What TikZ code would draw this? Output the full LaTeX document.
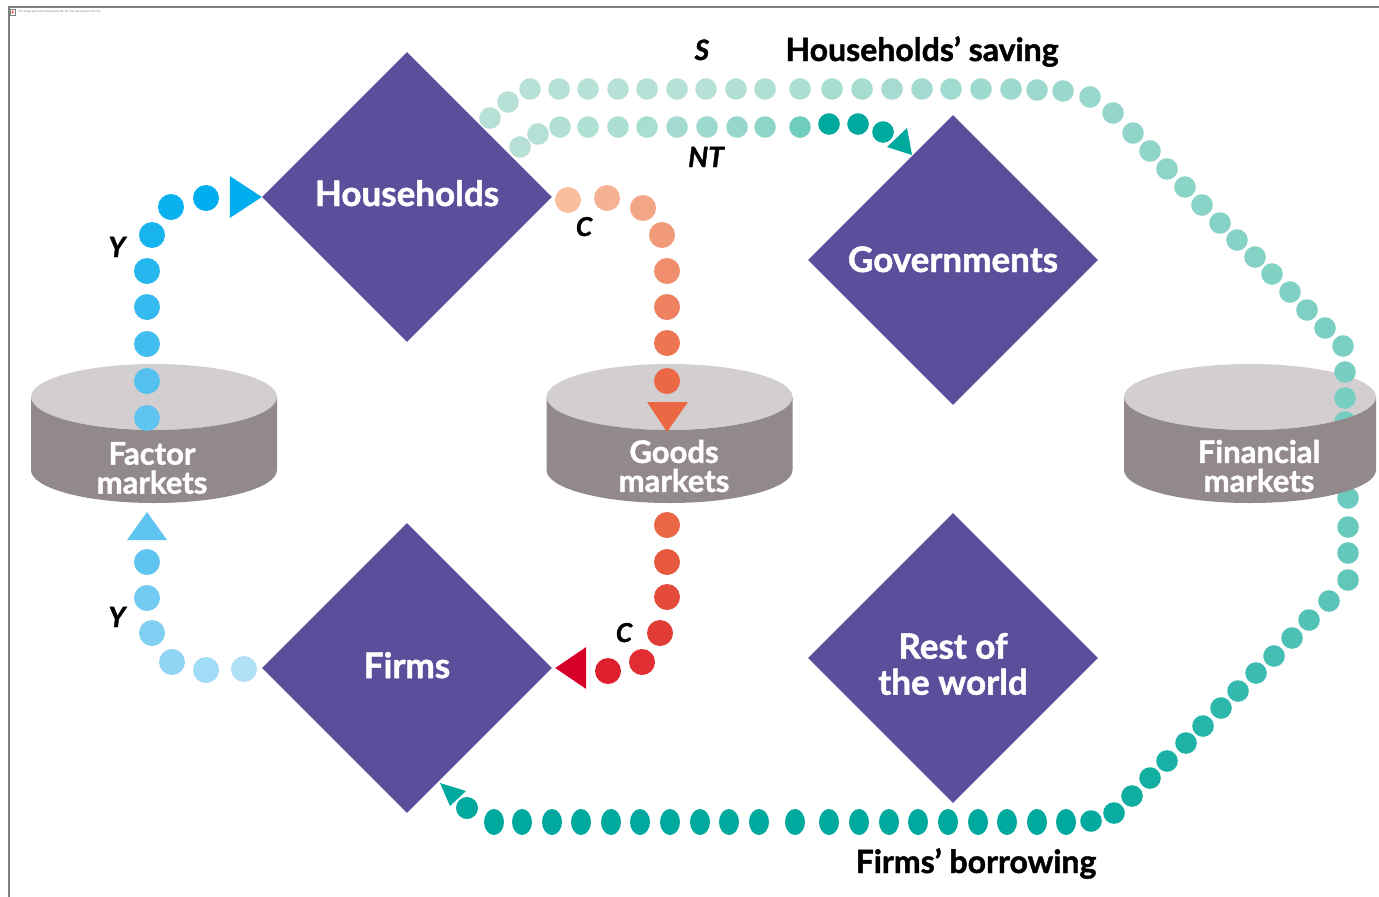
\documentclass[tikz,border=0pt]{standalone}
\usepackage{fontspec}
\setmainfont{Lato}[BoldFeatures={FakeBold=1.4},BoldItalicFeatures={FakeBold=1.4}]
\usetikzlibrary{shapes.geometric}
\definecolor{purp}{RGB}{91,79,156}
\definecolor{dtopc}{RGB}{211,206,208}
\definecolor{dsidec}{RGB}{146,137,139}
\definecolor{framec}{RGB}{128,128,128}
\definecolor{ydark}{RGB}{0,174,239}
\definecolor{ymid}{RGB}{96,196,240}
\definecolor{ylight}{RGB}{178,225,247}
\definecolor{clight}{RGB}{247,190,160}
\definecolor{cmid}{RGB}{234,104,68}
\definecolor{corg}{RGB}{233,103,68}
\definecolor{cdotred}{RGB}{222,32,46}
\definecolor{cred}{RGB}{214,0,42}
\definecolor{mint}{RGB}{183,225,214}
\definecolor{tealdk}{RGB}{0,169,157}
\newcommand\disktop[3]{\fill[dtopc] (#1,#2) ellipse[x radius=#3pt,y radius=33pt];}
\newcommand\diskside[3]{\fill[dsidec] ({#1-#3},#2) -- ({#1-#3},{#2+73}) arc[start angle=180,end angle=360,x radius=#3pt,y radius=33pt] -- ({#1+#3},#2) arc[start angle=0,end angle=-180,x radius=#3pt,y radius=33pt] -- cycle;}
\begin{document}
\begin{tikzpicture}[x=1pt,y=-1pt,
  diam/.style={diamond,aspect=1,fill=purp,inner sep=0pt,minimum width=290pt,minimum height=290pt},
  dtext/.style={text=white,inner sep=0pt,align=center,font=\fontsize{35}{36}\selectfont\bfseries},
  mtext/.style={text=white,inner sep=0pt,align=center,font=\fontsize{31}{29}\selectfont\bfseries},
  lab/.style={inner sep=0pt,anchor=base,font=\fontsize{32}{32}\selectfont\bfseries},
  sym/.style={inner sep=0pt,anchor=base,font=\fontsize{28}{28}\selectfont\bfseries\itshape},
  symc/.style={inner sep=0pt,anchor=base,font=\fontsize{26}{26}\selectfont\bfseries\itshape}]
\useasboundingbox (0,0) rectangle (1379,897);
\fill[white] (0,0) rectangle (1379,897);
% frame and broken image placeholder
\draw[framec,line width=2pt] (8.5,897) -- (8.5,7) -- (1379,7);
\draw[framec,line width=0.5pt] (10,9.5) rectangle (15.5,15);
\fill[red!70] (12.7,12.2) circle[radius=1.3pt];
\node[anchor=west,inner sep=0pt,text=framec,font=\fontsize{2.9}{3}\selectfont] (msg) at (18,12) {The image part with relationship ID rId7 was not found in the file.};
% diamonds
\node[diam] (hh) at (407,197) {};
\node[diam] (gov) at (953,260) {};
\node[diam] (fi) at (407,668) {};
\node[diam] (row) at (953,658) {};
\node[dtext,anchor=base] (hht) at (407,206) {Households};
\node[dtext,anchor=base] (govt) at (953,272) {Governments};
\node[dtext,anchor=base] (fit) at (407,678) {Firms};
\node[dtext] (rowt) at (953,664) {Rest of\\the world};
% disks
\disktop{154}{397}{123}
\diskside{154}{397}{123}
\disktop{669.5}{397}{123}
\diskside{669.5}{397}{123}
\disktop{1250}{397}{126}
% Y flows
\foreach \x/\y/\p in {244/669/0,206/670/20,172/662/40,152/633/60,147/598/80,147/562/100}
  \fill[ymid!\p!ylight] (\x,\y) circle[radius=13pt];
\fill[ymid] (147,512) -- (167,540) -- (127,540) -- cycle;
\foreach \x/\y/\p in {147/418/0,147/381/15,147/344/30,147/307/45,147/271/60,152/235/75,171/207/88,206/198/100}
  \fill[ydark!\p!ymid] (\x,\y) circle[radius=13pt];
\fill[ydark] (hh.west) -- ++(-32,-21) -- ++(0,42) -- cycle;
% C flows
\foreach \x/\y/\p in {568/200/0,607/198/14,643/208/28,662/235/42,667/271/57,667/307/71,667/343/85,667/381/100}
  \fill[cmid!\p!clight] (\x,\y) circle[radius=13pt];
\fill[cmid] (647,402) -- (688,402) -- (667,432) -- cycle;
\foreach \x/\y/\p in {667/525/0,667/562/20,667/597/40,660/633/60,642/662/80,608/671/100}
  \fill[cdotred!\p!corg] (\x,\y) circle[radius=13pt];
\fill[cred] ([xshift=3pt]fi.east) -- ++(31,-21) -- ++(0,42) -- cycle;
% NT flow
\foreach \x/\y/\p in {520/147/0,538/134/1,560/127/2,588/127/4,618/127/6,647/127/8,677/127/11,707/127/14,737/127/18,765/127/23,800/127/38,829/124/100,858/124/100,883/132/100}
  \fill[tealdk!\p!mint] (\x,\y) circle[radius=10.8pt];
\fill[tealdk] (887,147) -- (907,128) -- (912,155) -- cycle;
% S flow
\foreach \x/\y/\p in {490/118/0,508/102/0,530/89/0,559/89/0,588/89/0,618/89/0,647/89/0,677/89/0,706/89/0,736/89/2,765/89/4,800/89/6,832/89/8,862/89/9,892/89/10,922/89/11,951/89/12,981/89/13,1011/89/14,1037/90/15,1063/91/16,1090/97/17,1113/113/19,1133/133/21,1150/151/22,1167/169/23,1185/187/24,1202/205/25,1220/223/26,1237/240/27,1255/257/28,1272/274/29,1290/292/30,1307/310/31,1325/328/32,1343/346/33,1345/372/34,1345/398/35,1345/422/36,1346/447/37,1347/472/38,1348/498/41,1348/527/43,1348/553/45,1348/580/47,1329/601/51,1309/620/55,1292/638/59,1274/656/63,1256/673/67,1238/691/71,1221/708/75,1203/726/79,1186/743/83,1167/761/86,1150/778/89,1132/796/92,1114/813/95,1091/821/98}
  \fill[tealdk!\p!mint] (\x,\y) circle[radius=10.8pt];
\foreach \x in {1066,1037,1007,978,948,918,889,859,829,795,759,729,700,670,640,611,581,552,522,494}
  \fill[tealdk] (\x,822) ellipse[x radius=10pt,y radius=13pt];
\fill[tealdk] (467,808) circle[radius=11pt];
\fill[tealdk] (440,783) -- (466,791) -- (450,806) -- cycle;
\diskside{1250}{397}{126}
% disk labels
\node[mtext] (fmt) at (152,468) {Factor\\markets};
\node[mtext] (gmt) at (674,466) {Goods\\markets};
\node[mtext] (fint) at (1259,466) {Financial\\markets};
% flow labels
\node[sym] (ls) at (702,60) {S};
\node[lab] (lsave) at (922,61) {Households’ saving};
\node[sym] (lnt) at (706,167) {NT};
\node[sym] (ly1) at (117,257) {Y};
\node[sym] (ly2) at (117,627) {Y};
\node[symc] (lc1) at (584,236) {C};
\node[symc] (lc2) at (624,642) {C};
\node[lab] (lborrow) at (976,873) {Firms’ borrowing};
\end{tikzpicture}
\end{document}
